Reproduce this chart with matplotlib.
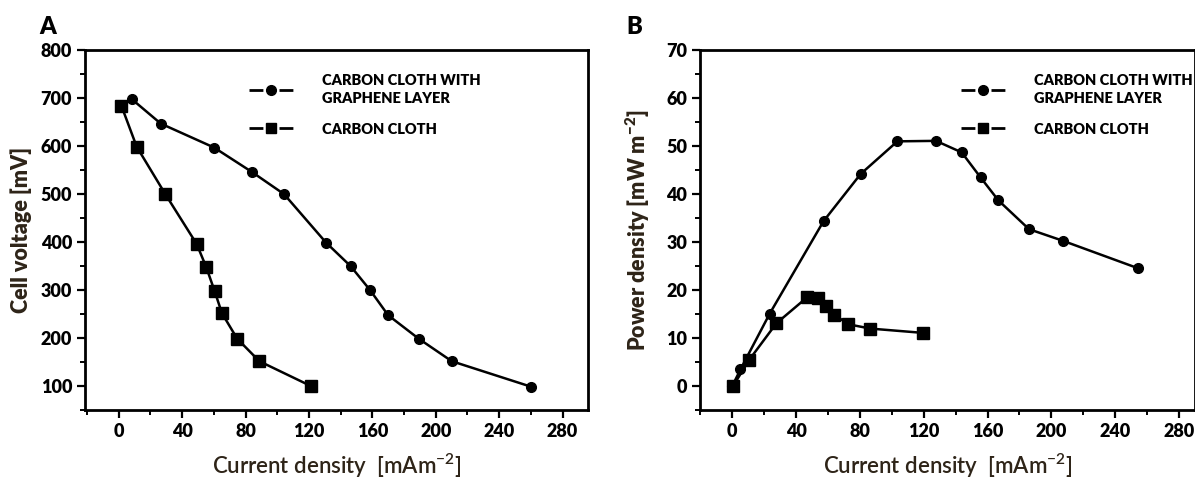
import matplotlib
matplotlib.use("Agg")
import matplotlib.pyplot as plt
from matplotlib.lines import Line2D
from matplotlib.ticker import MultipleLocator

plt.rcParams['font.family'] = ['Lato', 'DejaVu Sans']
plt.rcParams['mathtext.default'] = 'regular'

# panel A: polarisation curves
graph_a_x = [8.2, 26.5, 60.2, 84.1, 104.3, 130.8, 146.3, 158.6, 169.9, 189.2, 210.1, 260]
graph_a_y = [698, 647, 597, 546, 500, 399, 350, 300, 248, 199, 152, 99]
cloth_a_x = [1.7, 11.3, 29.4, 49.2, 55.2, 60.5, 65.1, 74.7, 88.7, 121.4]
cloth_a_y = [684, 599, 500, 396, 348, 298, 252, 199, 152, 100]

# panel B: power density curves
graph_b_x = [0, 5.2, 23.5, 57.3, 80.5, 103.5, 127.7, 143.8, 155.6, 166.8, 186.0, 207.1, 254.0]
graph_b_y = [0, 3.5, 15.1, 34.4, 44.2, 51.0, 51.1, 48.7, 43.5, 38.7, 32.7, 30.3, 24.6]
cloth_b_x = [0.5, 10.7, 27.7, 46.9, 54.0, 59.0, 64.0, 72.7, 86.5, 119.6]
cloth_b_y = [0, 5.5, 13.1, 18.5, 18.3, 16.8, 14.9, 12.9, 12.0, 11.1]

legend_labels = ["CARBON CLOTH WITH\nGRAPHENE LAYER", "CARBON CLOTH"]
x_ticks = [0, 40, 80, 120, 160, 200, 240, 280]

label_col = '#2e2418'

fig = plt.figure(figsize=(11.95, 4.82), dpi=100)
axA = fig.add_axes([0.0715, 0.149, 0.4205, 0.747])
axB = fig.add_axes([0.586, 0.149, 0.414, 0.747])


def style(ax):
    for s in ax.spines.values():
        s.set_linewidth(2)
    ax.set_xticks(x_ticks)
    ax.xaxis.set_minor_locator(MultipleLocator(20))
    ax.tick_params(which='major', direction='out', length=6, width=1.6,
                   labelsize=13, top=False, right=False)
    ax.tick_params(which='minor', direction='out', length=3.5, width=1.4,
                   top=False, right=False)
    for t in ax.get_xticklabels() + ax.get_yticklabels():
        t.set_fontweight('heavy')
    ax.set_xlabel("Current density  [mAm$^{-2}$]", fontsize=16, fontweight='semibold',
                  color=label_col, labelpad=8)
    handles = [Line2D([], [], color='k', ls=(0, (5, 5.8)), lw=2, marker='o', ms=7),
               Line2D([], [], color='k', ls=(0, (5, 5.8)), lw=2, marker='s', ms=7)]
    leg = ax.legend(handles, legend_labels, loc='upper left', bbox_to_anchor=(0.3, 0.97),
                    frameon=False, handlelength=3.0, handletextpad=2.0,
                    labelspacing=1.2, prop={'weight': 'heavy', 'size': 10.5})
    for t in leg.get_texts():
        t.set_linespacing(1.45)
    return leg


axA.plot(graph_a_x, graph_a_y, color='k', lw=1.8, marker='o', ms=7)
axA.plot(cloth_a_x, cloth_a_y, color='k', lw=1.8, marker='s', ms=8)
axA.set_xlim(-21, 296)
axA.set_ylim(50, 800)
axA.set_yticks(range(100, 801, 100))
axA.yaxis.set_minor_locator(MultipleLocator(50))
style(axA)
axA.set_ylabel("Cell voltage [mV]", fontsize=15.5, fontweight='heavy', color=label_col,
               labelpad=6)

axB.plot(graph_b_x, graph_b_y, color='k', lw=1.8, marker='o', ms=7)
axB.plot(cloth_b_x, cloth_b_y, color='k', lw=1.8, marker='s', ms=8)
axB.set_xlim(-20, 290)
axB.set_ylim(-5, 70)
axB.set_yticks(range(0, 71, 10))
axB.yaxis.set_minor_locator(MultipleLocator(5))
leg = style(axB)
leg.set_bbox_to_anchor((0.5, 0.97))
axB.set_ylabel("Power density [mW m$^{-2}$]", fontsize=15.5, fontweight='heavy',
               color=label_col, labelpad=10)

fig.text(0.033, 0.93, "A", fontsize=17, fontweight='heavy')
fig.text(0.524, 0.93, "B", fontsize=17, fontweight='heavy')

fig.savefig("out.png", dpi=100)
